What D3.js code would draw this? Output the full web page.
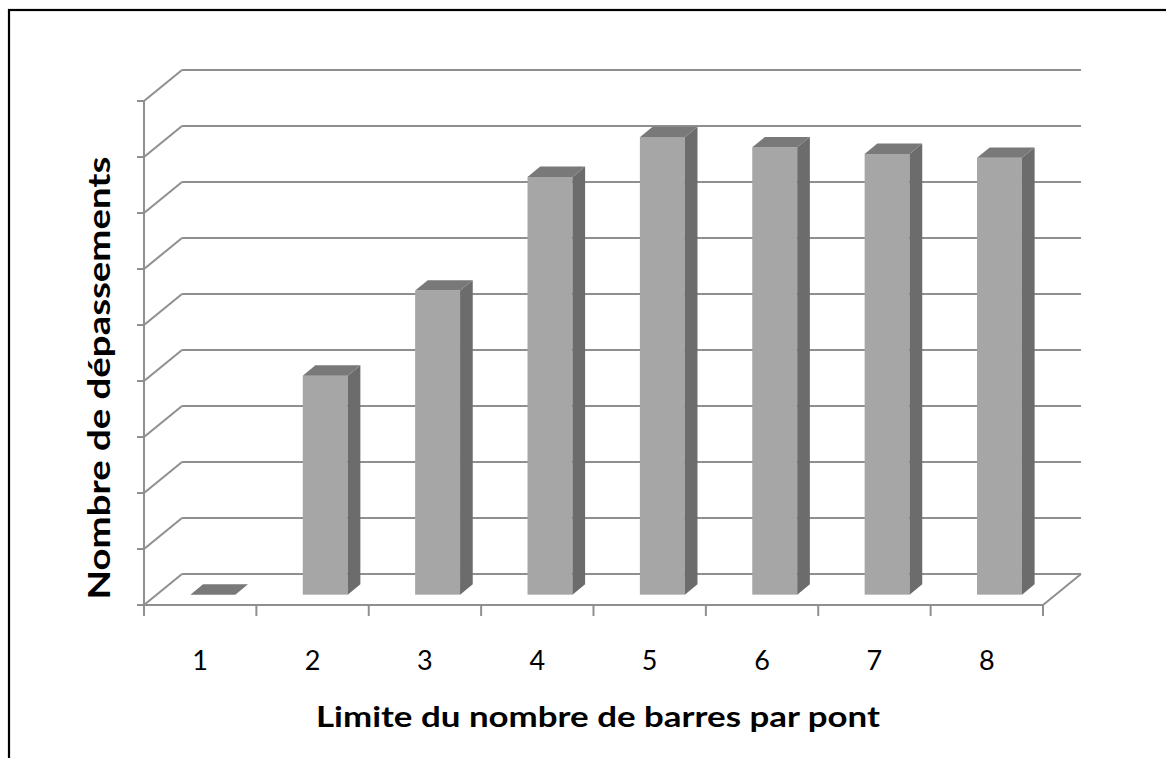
<!DOCTYPE html>
<html>
<head>
<meta charset="utf-8">
<script src="https://cdn.jsdelivr.net/npm/d3@7"></script>
<style>
  html, body { margin: 0; padding: 0; background: #fff; }
  svg { display: block; }
</style>
</head>
<body>
<svg id="chart" width="1166" height="758"></svg>
<script>
// ---- data ----
const categories = ["1", "2", "3", "4", "5", "6", "7", "8"];
const values = [0, 39.1, 54.3, 74.6, 81.7, 79.9, 78.7, 78.0];
const yTicks = [0, 10, 20, 30, 40, 50, 60, 70, 80, 90];
const xTitle = "Limite du nombre de barres par pont";
const yTitle = "Nombre de dépassements";

// ---- layout ----
const svg = d3.select("#chart");
const W = 1166, H = 758;
const plotLeft = 144, plotRight = 1043, floorY = 605, topY = 101;
const depthX = 38, depthY = -31; // 3D depth vector
const gridColor = "#8f8f8f";
const fontFam = "Lato, 'Open Sans', sans-serif";

svg.append("rect").attr("width", W).attr("height", H).attr("fill", "#fff");
// outer border (extends beyond the right and bottom)
svg.append("rect").attr("x", 9).attr("y", 10).attr("width", 1200).attr("height", 800)
  .attr("fill", "none").attr("stroke", "#000").attr("stroke-width", 2.2);

const x = d3.scaleBand().domain(categories).range([plotLeft, plotRight]).paddingInner(0).paddingOuter(0);
const y = d3.scaleLinear().domain([0, 90]).range([floorY, topY]);

const P = (px, py, d) => [px + depthX * d, py + depthY * d];

const g = svg.append("g");

// back wall gridlines
g.selectAll("line.grid").data(yTicks).join("line")
  .attr("class", "grid")
  .attr("x1", plotLeft + depthX).attr("x2", plotRight + depthX)
  .attr("y1", d => y(d) + depthY).attr("y2", d => y(d) + depthY)
  .attr("stroke", gridColor).attr("stroke-width", 2);

// side wall diagonals
g.selectAll("line.diag").data(yTicks).join("line")
  .attr("class", "diag")
  .attr("x1", plotLeft).attr("y1", d => y(d))
  .attr("x2", plotLeft + depthX).attr("y2", d => y(d) + depthY)
  .attr("stroke", gridColor).attr("stroke-width", 2);

// floor right edge
g.append("line")
  .attr("x1", plotRight).attr("y1", y(0))
  .attr("x2", plotRight + depthX).attr("y2", y(0) + depthY)
  .attr("stroke", gridColor).attr("stroke-width", 2);

// bars
const bw = x.bandwidth() * 0.4;
const d1 = 1 / 3, d2 = 2 / 3;
const bars = g.selectAll("g.bar").data(categories.map((c, i) => ({ c, v: values[i] }))).join("g").attr("class", "bar");

bars.each(function (d) {
  const sel = d3.select(this);
  const xl = x(d.c) + (x.bandwidth() - bw) / 2;
  const xr = xl + bw;
  const yt = y(d.v), yb = y(0);
  if (d.v > 0) {
    const a = P(xl, yt, d1), b = P(xr, yb, d1);
    sel.append("rect").attr("x", a[0]).attr("y", a[1])
      .attr("width", b[0] - a[0]).attr("height", b[1] - a[1])
      .attr("fill", "#a6a6a6");
    const side = [P(xr, yt, d1), P(xr, yt, d2), P(xr, yb, d2), P(xr, yb, d1)];
    sel.append("polygon").attr("points", side.map(p => p.join(",")).join(" "))
      .attr("fill", "#6c6c6c");
  }
  const top = [P(xl, yt, d1), P(xr, yt, d1), P(xr, yt, d2), P(xl, yt, d2)];
  sel.append("polygon").attr("points", top.map(p => p.join(",")).join(" "))
    .attr("fill", "#797979");
});

// front axis lines
g.append("line").attr("x1", plotLeft).attr("x2", plotRight).attr("y1", floorY).attr("y2", floorY)
  .attr("stroke", gridColor).attr("stroke-width", 2);
g.append("line").attr("x1", plotLeft).attr("x2", plotLeft).attr("y1", topY).attr("y2", floorY)
  .attr("stroke", gridColor).attr("stroke-width", 2);

// y ticks
g.selectAll("line.ytick").data(yTicks).join("line")
  .attr("class", "ytick")
  .attr("x1", plotLeft - 7).attr("x2", plotLeft)
  .attr("y1", d => y(d)).attr("y2", d => y(d))
  .attr("stroke", gridColor).attr("stroke-width", 2);

// x ticks (band boundaries)
const xBounds = categories.map(c => x(c)).concat([plotRight]);
g.selectAll("line.xtick").data(xBounds).join("line")
  .attr("class", "xtick")
  .attr("x1", d => d).attr("x2", d => d)
  .attr("y1", floorY).attr("y2", floorY + 11)
  .attr("stroke", gridColor).attr("stroke-width", 2);

// category labels
g.selectAll("text.xlab").data(categories).join("text")
  .attr("class", "xlab")
  .attr("x", d => x(d) + x.bandwidth() / 2)
  .attr("y", 670)
  .style("font-family", fontFam).style("font-size", "27px")
  .attr("text-anchor", "middle")
  .attr("fill", "#000")
  .text(d => d);

// axis titles
svg.append("text")
  .attr("x", 598).attr("y", 727)
  .attr("text-anchor", "middle")
  .style("font-family", fontFam).style("font-size", "29px").style("font-weight", "bold")
  .attr("textLength", 564).attr("lengthAdjust", "spacingAndGlyphs")
  .text(xTitle);

svg.append("text")
  .attr("transform", "translate(110,378) rotate(-90)")
  .attr("text-anchor", "middle")
  .style("font-family", fontFam).style("font-size", "31px").style("font-weight", "bold")
  .attr("textLength", 443).attr("lengthAdjust", "spacingAndGlyphs")
  .text(yTitle);
</script>
</body>
</html>
